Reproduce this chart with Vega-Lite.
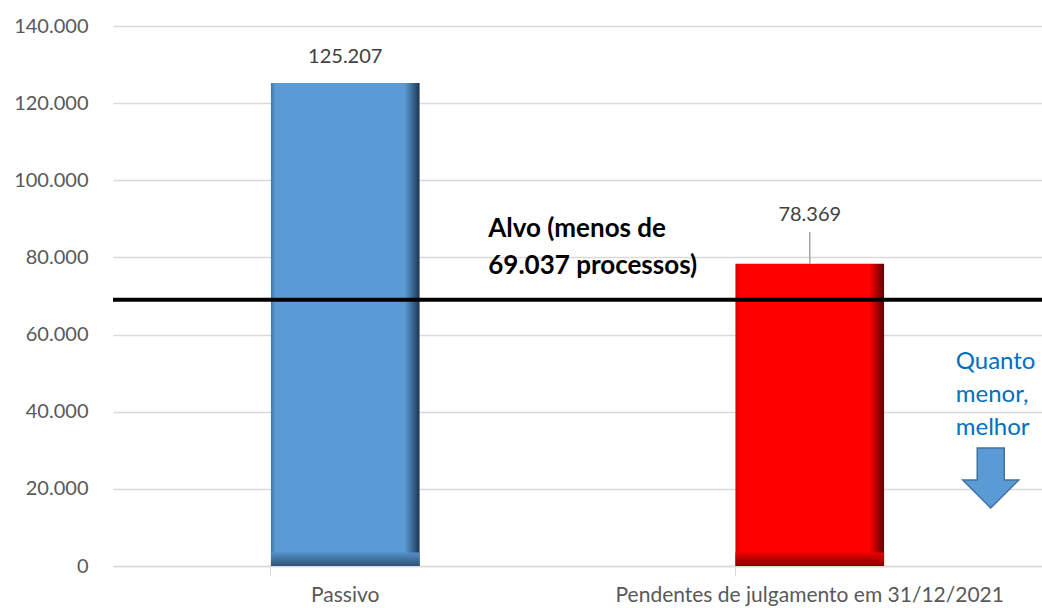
{
  "$schema": "https://vega.github.io/schema/vega-lite/v6.json",
  "width": 929,
  "height": 540,
  "autosize": "none",
  "padding": {"left": 113, "top": 26, "right": 0, "bottom": 42},
  "background": "white",
  "config": {
    "view": {"stroke": null},
    "font": "Lato",
    "locale": {"number": {"decimal": ",", "thousands": ".", "grouping": [3], "currency": ["R$", ""]}}
  },
  "data": {
    "values": [
      {"categoria": "Passivo", "valor": 125207},
      {"categoria": "Pendentes de julgamento em 31/12/2021", "valor": 78369}
    ]
  },
  "encoding": {
    "x": {
      "field": "categoria",
      "type": "nominal",
      "sort": null,
      "scale": {"paddingInner": 0.68, "paddingOuter": 0.34},
      "axis": {
        "title": null,
        "labelAngle": 0,
        "labelFontSize": 21,
        "labelColor": "#595959",
        "labelPadding": 8,
        "labelLimit": 0,
        "domainColor": "#D9D9D9",
        "domainWidth": 1.5,
        "tickColor": "#D9D9D9",
        "tickSize": 10,
        "bandPosition": 0,
        "grid": false
      }
    }
  },
  "layer": [
    {
      "encoding": {
        "y": {
          "field": "valor",
          "type": "quantitative",
          "scale": {"domain": [0, 140000], "nice": false},
          "axis": {
            "title": null,
            "values": [0, 20000, 40000, 60000, 80000, 100000, 120000, 140000],
            "format": ",.0f",
            "labelFontSize": 20,
            "labelColor": "#595959",
            "labelPadding": 25,
            "tickSize": 0,
            "domain": false,
            "gridColor": "#D9D9D9",
            "gridWidth": 1.5
          }
        }
      },
      "transform": [{"filter": "datum.categoria == 'Passivo'"}],
      "mark": {
        "type": "bar",
        "color": {
          "gradient": "linear", "x1": 0, "y1": 0, "x2": 1, "y2": 0,
          "stops": [
            {"offset": 0, "color": "#3F76A8"},
            {"offset": 0.03, "color": "#5B9BD5"},
            {"offset": 0.9, "color": "#5B9BD5"},
            {"offset": 0.95, "color": "#3C6A95"},
            {"offset": 1, "color": "#1B3450"}
          ]
        }
      }
    },
    {
      "transform": [{"filter": "datum.categoria != 'Passivo'"}],
      "mark": {
        "type": "bar",
        "color": {
          "gradient": "linear", "x1": 0, "y1": 0, "x2": 1, "y2": 0,
          "stops": [
            {"offset": 0, "color": "#D00000"},
            {"offset": 0.03, "color": "#FF0000"},
            {"offset": 0.9, "color": "#FF0000"},
            {"offset": 0.95, "color": "#B00000"},
            {"offset": 1, "color": "#5A0000"}
          ]
        }
      },
      "encoding": {"y": {"field": "valor", "type": "quantitative"}}
    },
    {
      "transform": [{"filter": "datum.categoria == 'Passivo'"}],
      "mark": {
        "type": "bar",
        "color": {
          "gradient": "linear", "x1": 0, "y1": 0, "x2": 0, "y2": 1,
          "stops": [
            {"offset": 0, "color": "#5590C8"},
            {"offset": 1, "color": "#2E5478"}
          ]
        }
      },
      "encoding": {"y": {"datum": 3500}, "y2": {"datum": 0}}
    },
    {
      "transform": [{"filter": "datum.categoria != 'Passivo'"}],
      "mark": {
        "type": "bar",
        "color": {
          "gradient": "linear", "x1": 0, "y1": 0, "x2": 0, "y2": 1,
          "stops": [
            {"offset": 0, "color": "#F00000"},
            {"offset": 1, "color": "#800000"}
          ]
        }
      },
      "encoding": {"y": {"datum": 3500}, "y2": {"datum": 0}}
    },
    {
      "transform": [{"filter": "datum.categoria == 'Passivo'"}],
      "mark": {"type": "text", "baseline": "middle", "dy": -26, "fontSize": 20, "color": "#404040"},
      "encoding": {
        "y": {"field": "valor", "type": "quantitative"},
        "text": {"field": "valor", "type": "quantitative", "format": ",.0f"}
      }
    },
    {
      "transform": [{"filter": "datum.categoria != 'Passivo'"}],
      "mark": {"type": "rule", "color": "#A6A6A6", "strokeWidth": 1.5},
      "encoding": {"y": {"field": "valor", "type": "quantitative"}, "y2": {"datum": 86600}}
    },
    {
      "transform": [{"filter": "datum.categoria != 'Passivo'"}],
      "mark": {"type": "text", "baseline": "middle", "fontSize": 20, "color": "#404040"},
      "encoding": {
        "y": {"datum": 91000},
        "text": {"field": "valor", "type": "quantitative", "format": ",.0f"}
      }
    },
    {
      "data": {"values": [{"meta": 69037}]},
      "mark": {"type": "rule", "color": "#000000", "strokeWidth": 4},
      "encoding": {"y": {"field": "meta", "type": "quantitative"}, "x": null}
    },
    {
      "data": {"values": [{"categoria": "Passivo", "rotulo": "Alvo (menos de\n69.037 processos)"}]},
      "mark": {"type": "text", "align": "left", "baseline": "middle", "dx": 143, "fontSize": 26, "fontWeight": "bold", "lineBreak": "\n", "lineHeight": 37, "color": "#000000"},
      "encoding": {
        "y": {"datum": 87300},
        "text": {"field": "rotulo"}
      }
    },
    {
      "data": {"values": [{"categoria": "Pendentes de julgamento em 31/12/2021", "rotulo": "Quanto\nmenor,\nmelhor"}]},
      "mark": {"type": "text", "align": "left", "baseline": "middle", "dx": 146, "fontSize": 24, "lineBreak": "\n", "lineHeight": 33, "color": "#0070C0"},
      "encoding": {
        "y": {"datum": 52900},
        "text": {"field": "rotulo"}
      }
    },
    {
      "data": {"values": [{"categoria": "Pendentes de julgamento em 31/12/2021", "sinal": "seta"}]},
      "mark": {
        "type": "point",
        "shape": "M-0.45,-1L0.45,-1L0.45,0.067L0.933,0.067L0,1L-0.933,0.067L-0.45,0.067Z",
        "size": 3600,
        "filled": true,
        "fill": "#5B9BD5",
        "stroke": "#41719C",
        "strokeWidth": 1.5,
        "opacity": 1,
        "xOffset": 181
      },
      "encoding": {
        "y": {"datum": 22800}
      }
    }
  ]
}
